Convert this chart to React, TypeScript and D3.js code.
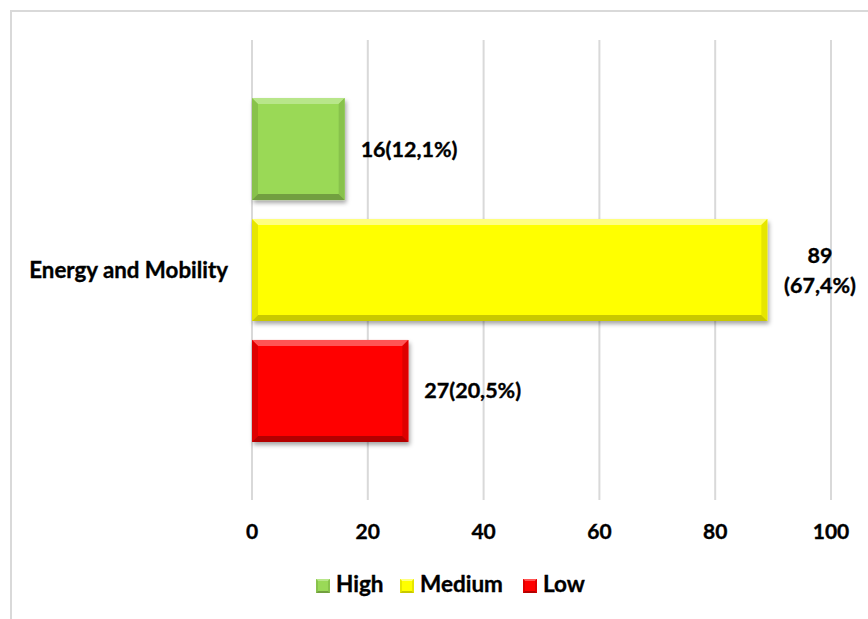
import * as d3 from "d3";

const category = "Energy and Mobility";
const series = ["High", "Medium", "Low"];
const values = [16, 89, 27];
const labels = [["16(12,1%)"], ["89", "(67,4%)"], ["27(20,5%)"]];
const ticks = [0, 20, 40, 60, 80, 100];
const colors = ["#9ad957", "#ffff00", "#ff0000"];
const lightEdge = ["#b8e68a", "#ffff80", "#ff5555"];
const darkEdge = ["#729f3f", "#c8c800", "#b40000"];
const sideEdge = ["#88c24c", "#e6e600", "#de0000"];

const width = 868,
  height = 619,
  marginLeft = 252,
  marginRight = 37,
  marginTop = 40,
  marginBottom = 119;

const font = "Lato, 'Open Sans', sans-serif";

function Bevel({ x0, x1, y0, y1, i, b }: any) {
  return (
    <g>
      <rect x={x0} y={y0} width={x1 - x0} height={y1 - y0} fill={colors[i]} />
      <polygon
        points={`${x0},${y0} ${x1},${y0} ${x1 - b},${y0 + b} ${x0 + b},${y0 + b}`}
        fill={lightEdge[i]}
      />
      <polygon
        points={`${x0},${y0} ${x0 + b},${y0 + b} ${x0 + b},${y1 - b} ${x0},${y1}`}
        fill={sideEdge[i]}
      />
      <polygon
        points={`${x1},${y0} ${x1},${y1} ${x1 - b},${y1 - b} ${x1 - b},${y0 + b}`}
        fill={sideEdge[i]}
      />
      <polygon
        points={`${x0},${y1} ${x0 + b},${y1 - b} ${x1 - b},${y1 - b} ${x1},${y1}`}
        fill={darkEdge[i]}
      />
    </g>
  );
}

export default function App() {
  const x = d3.scaleLinear([0, 100], [marginLeft, width - marginRight]);
  const yCat = d3
    .scaleBand([category], [marginTop, height - marginBottom])
    .paddingOuter(0.169)
    .paddingInner(0);
  const y = d3
    .scaleBand(series, [yCat(category)!, yCat(category)! + yCat.bandwidth()])
    .paddingInner(0.157)
    .paddingOuter(0);

  const legendX = [316, 400, 523];

  return (
    <svg
      width={width}
      height={height}
      style={{ position: "absolute", left: 0, top: 0 }}
      fontFamily={font}
      fontWeight="bold"
    >
      <defs>
        <filter id="shadow" x="-10%" y="-10%" width="130%" height="130%">
          <feDropShadow dx="1.5" dy="3" stdDeviation="2" floodColor="#000" floodOpacity="0.35" />
        </filter>
      </defs>
      <rect width={width} height={height} fill="#fff" />
      <path d={`M11,${height} V11 H${width}`} fill="none" stroke="#d9d9d9" strokeWidth={2} />

      {ticks.map((t) => (
        <line
          key={t}
          x1={x(t)}
          x2={x(t)}
          y1={marginTop}
          y2={height - marginBottom}
          stroke="#d9d9d9"
          strokeWidth={2}
        />
      ))}

      {series.map((s, i) => (
        <g key={s} filter="url(#shadow)">
          <Bevel x0={x(0)} x1={x(values[i])} y0={y(s)!} y1={y(s)! + y.bandwidth()} i={i} b={6} />
        </g>
      ))}

      <g fill="#000" stroke="#000" strokeWidth={0.35}>
        {series.map((s, i) => {
          const cy = y(s)! + y.bandwidth() / 2;
          if (labels[i].length === 1) {
            return (
              <text key={s} x={x(values[i]) + 16} y={cy} dy="0.35em" fontSize={21.5}>
                {labels[i][0]}
              </text>
            );
          }
          return (
            <text key={s} x={820} y={cy - 15} textAnchor="middle" fontSize={21.5}>
              {labels[i].map((l, k) => (
                <tspan key={k} x={820} dy={k === 0 ? "0.35em" : 30}>
                  {l}
                </tspan>
              ))}
            </text>
          );
        })}

        <text
          x={228}
          y={yCat(category)! + yCat.bandwidth() / 2}
          dy="0.35em"
          textAnchor="end"
          fontSize={22.3}
        >
          {category}
        </text>

        {ticks.map((t) => (
          <text key={t} x={x(t)} y={539} textAnchor="middle" fontSize={21}>
            {t}
          </text>
        ))}

        {series.map((s, i) => (
          <text key={s} x={legendX[i] + 20} y={592} fontSize={22.5}>
            {s}
          </text>
        ))}
      </g>

      {series.map((s, i) => (
        <Bevel key={s} x0={legendX[i]} x1={legendX[i] + 14} y0={579} y1={593} i={i} b={2} />
      ))}
    </svg>
  );
}
